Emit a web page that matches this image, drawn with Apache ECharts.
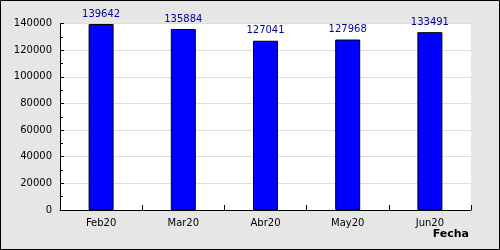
<!DOCTYPE html>
<html>
<head>
<meta charset="utf-8">
<script src="https://cdn.jsdelivr.net/npm/echarts@6/dist/echarts.min.js"></script>
<style>html,body{margin:0;padding:0;}#c{width:500px;height:250px;}</style>
</head>
<body>
<div id="c"></div>
<script>
const categories = ['Feb20', 'Mar20', 'Abr20', 'May20', 'Jun20'];
const values = [139642, 135884, 127041, 127968, 133491];
const yTicks = [0, 20000, 40000, 60000, 80000, 100000, 120000, 140000];

const chart = echarts.init(document.getElementById('c'), null, {renderer: 'canvas'});
const font = 'DejaVu Sans';
chart.setOption({
  animation: false,
  backgroundColor: '#e6e6e6',
  grid: {left: 60, right: 29, top: 23.5, bottom: 40, show: true, backgroundColor: '#ffffff', borderWidth: 0},
  xAxis: {
    type: 'category',
    data: categories,
    boundaryGap: true,
    axisLine: {show: true, lineStyle: {color: '#000', width: 1}},
    axisTick: {show: true, inside: true, length: 5, lineStyle: {color: '#000'}},
    axisLabel: {color: '#000', fontFamily: font, fontSize: 10, margin: 8}
  },
  yAxis: {
    type: 'value',
    min: yTicks[0],
    max: yTicks[yTicks.length - 1],
    interval: 20000,
    axisLine: {show: true, lineStyle: {color: '#000', width: 1}},
    axisTick: {show: true, inside: true, length: 4, lineStyle: {color: '#000'}},
    minorTick: {show: true, splitNumber: 2, length: 3, lineStyle: {color: '#000'}},
    splitLine: {show: true, lineStyle: {color: '#dcdcdc', width: 1}},
    axisLabel: {color: '#000', fontFamily: font, fontSize: 10, margin: 8, formatter: v => String(v)}
  },
  series: [{
    type: 'bar',
    data: values,
    barWidth: 25,
    itemStyle: {color: '#0000ff', borderColor: '#000', borderWidth: 1},
    label: {show: true, position: 'top', distance: 5, color: '#000099', fontFamily: font, fontSize: 10}
  }],
  graphic: [
    {type: 'rect', shape: {x: 0.5, y: 0.5, width: 499, height: 249}, style: {fill: 'none', stroke: '#000', lineWidth: 1}, z: 100},
    {type: 'text', right: 31, top: 229, style: {text: 'Fecha', fontFamily: font, fontSize: 11, fontWeight: 'bold', fill: '#000'}}
  ]
});
</script>
</body>
</html>
